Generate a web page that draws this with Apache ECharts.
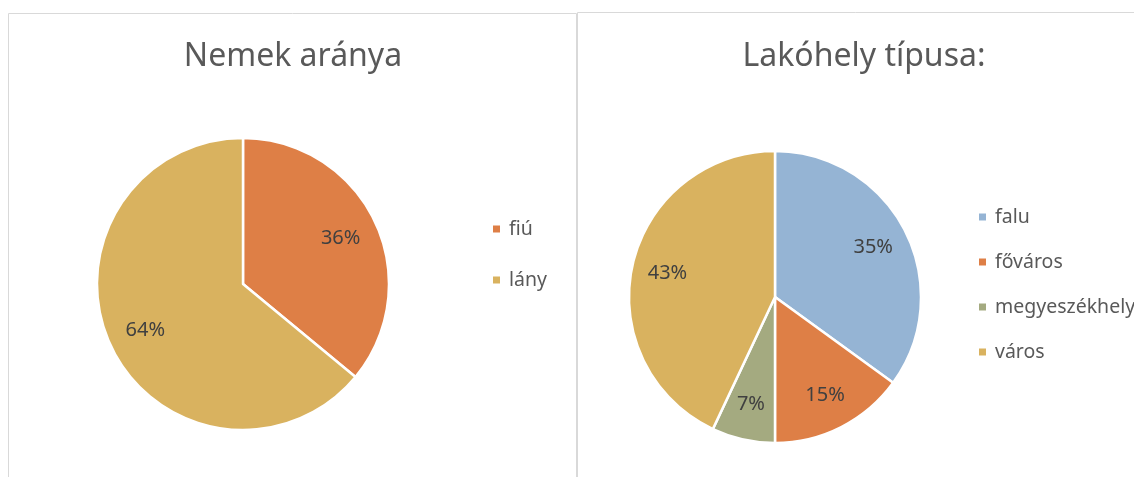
<!DOCTYPE html>
<html>
<head>
<meta charset="utf-8">
<script src="https://cdn.jsdelivr.net/npm/echarts@6/dist/echarts.min.js"></script>
<style>
  html, body { margin: 0; padding: 0; background: #fff; }
  #chart { width: 1134px; height: 477px; }
</style>
</head>
<body>
<div id="chart"></div>
<script>
// Nemek aránya
const genderNames = ["fiú", "lány"];
const genderValues = [36, 64];
const genderColors = ["#DE7F46", "#D9B25F"];

// Lakóhely típusa
const placeNames = ["falu", "főváros", "megyeszékhely", "város"];
const placeValues = [35, 15, 7, 43];
const placeColors = ["#95B4D4", "#DE7F46", "#A4AA80", "#D9B25F"];

const leftCenter = [243, 284];
const rightCenter = [775, 297];
const radius = 146;

const chart = echarts.init(document.getElementById("chart"));

// push the inside labels further out (Excel puts them at ~70% of the radius)
function pushOut(center, k) {
  return function (params) {
    const r = params.labelRect;
    const lx = r.x + r.width / 2;
    const ly = r.y + r.height / 2;
    return { dx: (lx - center[0]) * k, dy: (ly - center[1]) * k };
  };
}

const labelStyle = {
  show: true,
  position: "inside",
  formatter: "{c}%",
  fontSize: 20,
  color: "#404040",
  fontFamily: "Noto Sans"
};

const legendText = { fontSize: 19.5, color: "#595959", fontFamily: "Noto Sans", padding: [0, 0, 0, 3] };
const titleText = { fontSize: 32, fontWeight: "normal", color: "#595959", fontFamily: "Noto Sans" };

chart.setOption({
  animation: false,
  title: [
    { text: "Nemek aránya", left: 288, top: 36, textAlign: "center", textStyle: titleText },
    { text: "Lakóhely típusa:", left: 859, top: 36, textAlign: "center", textStyle: titleText }
  ],
  legend: [
    {
      orient: "vertical", left: 486, top: 214, icon: "rect",
      itemWidth: 9, itemHeight: 9, itemGap: 31,
      data: genderNames, textStyle: legendText
    },
    {
      orient: "vertical", left: 972, top: 202, icon: "rect",
      itemWidth: 9, itemHeight: 9, itemGap: 25,
      data: placeNames, textStyle: legendText
    }
  ],
  graphic: [
    { type: "line", shape: { x1: 8.5, y1: 13.5, x2: 576.5, y2: 13.5 }, style: { stroke: "#D9D9D9", lineWidth: 1 } },
    { type: "line", shape: { x1: 8.5, y1: 13.5, x2: 8.5, y2: 477 }, style: { stroke: "#D9D9D9", lineWidth: 1 } },
    { type: "line", shape: { x1: 576.5, y1: 13.5, x2: 576.5, y2: 477 }, style: { stroke: "#D9D9D9", lineWidth: 1 } },
    { type: "line", shape: { x1: 577.5, y1: 12.5, x2: 1134, y2: 12.5 }, style: { stroke: "#D9D9D9", lineWidth: 1 } },
    { type: "line", shape: { x1: 577.5, y1: 12.5, x2: 577.5, y2: 477 }, style: { stroke: "#D9D9D9", lineWidth: 1 } }
  ],
  series: [
    {
      type: "pie",
      center: leftCenter,
      radius: radius,
      startAngle: 90,
      clockwise: true,
      silent: true,
      itemStyle: { borderColor: "#fff", borderWidth: 2.5 },
      label: labelStyle,
      labelLine: { show: false },
      labelLayout: pushOut(leftCenter, 0.42),
      data: genderNames.map((n, i) => ({ name: n, value: genderValues[i], itemStyle: { color: genderColors[i] } }))
    },
    {
      type: "pie",
      center: rightCenter,
      radius: radius,
      startAngle: 90,
      clockwise: true,
      silent: true,
      itemStyle: { borderColor: "#fff", borderWidth: 2.5 },
      label: labelStyle,
      labelLine: { show: false },
      labelLayout: pushOut(rightCenter, 0.45),
      data: placeNames.map((n, i) => ({ name: n, value: placeValues[i], itemStyle: { color: placeColors[i] } }))
    }
  ]
});
</script>
</body>
</html>
